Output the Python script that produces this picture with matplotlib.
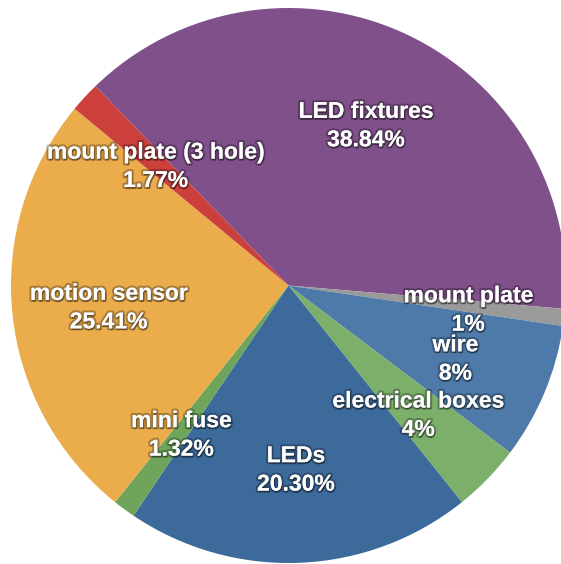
import matplotlib
matplotlib.use("Agg")
import matplotlib.pyplot as plt
import matplotlib.patheffects as pe
import numpy as np

categories = ["LED fixtures", "mount plate", "wire", "electrical boxes", "LEDs",
              "mini fuse", "motion sensor", "mount plate (3 hole)"]
values = [38.84, 1, 8, 4, 20.30, 1.32, 25.41, 1.77]
pct_labels = ["38.84%", "1%", "8%", "4%", "20.30%", "1.32%", "25.41%", "1.77%"]
colors = ["#7f508a", "#9a9a9a", "#4d7aa8", "#7cb06a", "#3c6a9b",
          "#6ea55a", "#ebac4c", "#cb403c"]

fig = plt.figure(figsize=(5.61, 5.64), dpi=100)
ax = fig.add_axes([0, 0, 1, 1])

R = 277.5
cx, cy = 288.5, 285.5
W, H = 561.0, 564.0

wedges, _ = ax.pie(values, colors=colors, startangle=134.1, counterclock=False,
                   radius=1.0, wedgeprops=dict(linewidth=0))

ax.set_xlim(-cx / R, (W - cx) / R)
ax.set_ylim(-(H - cy) / R, cy / R)
ax.set_aspect("equal")
ax.axis("off")

for w, name, pl in zip(wedges, categories, pct_labels):
    ang = np.deg2rad((w.theta1 + w.theta2) / 2)
    r = 0.652
    x, y = r * np.cos(ang), r * np.sin(ang) - 0.013
    ax.text(x, y, name + "\n" + pl, ha="center", va="center", color="white",
            fontsize=16.5, fontweight="bold", family=["Liberation Sans", "DejaVu Sans"],
            linespacing=1.3,
            path_effects=[pe.withSimplePatchShadow(offset=(0.6, -1.2), shadow_rgbFace="black", alpha=0.35),
                          pe.Stroke(linewidth=3, foreground=(0, 0, 0, 0.28)), pe.Normal()])

fig.savefig("out.png", dpi=100)
